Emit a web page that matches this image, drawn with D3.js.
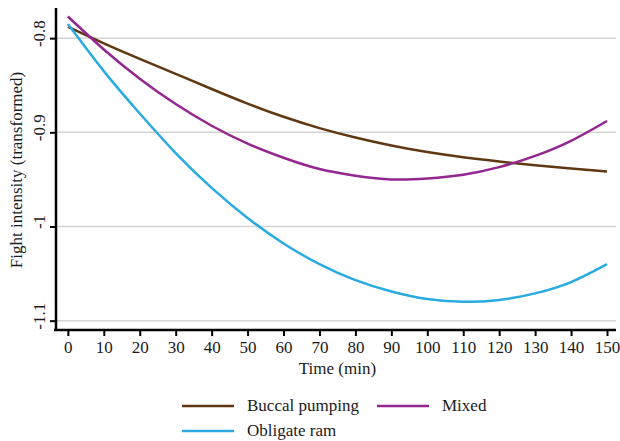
<!DOCTYPE html>
<html lang="en">
<head>
    <meta charset="UTF-8">
    <title>Fight intensity</title>
    <script src="https://d3js.org/d3.v7.min.js"></script>
    <style>
        body {
            margin: 0;
            padding: 0;
            background-color: white;
        }
        svg {
            display: block;
            font-family: 'Liberation Serif', 'DejaVu Serif', serif;
        }
        .grid line {
            stroke: #d4d4d4;
            stroke-width: 1.5;
        }
    </style>
</head>
<body>
    <svg width="620" height="441"></svg>

    <script>
        // values, every 10 min
        const times = [0, 10, 20, 30, 40, 50, 60, 70, 80, 90, 100, 110, 120, 130, 140, 150];
        const buccalPumping = [-0.788, -0.8055, -0.822, -0.838, -0.854, -0.8695, -0.8835, -0.8955,
                               -0.9055, -0.914, -0.921, -0.9265, -0.931, -0.935, -0.9385, -0.9415];
        const mixed = [-0.777, -0.812, -0.843, -0.870, -0.893, -0.912, -0.927, -0.939,
                       -0.946, -0.950, -0.949, -0.945, -0.937, -0.925, -0.909, -0.888];
        const obligateRam = [-0.785, -0.835, -0.880, -0.922, -0.959, -0.991, -1.018, -1.040,
                             -1.057, -1.069, -1.077, -1.080, -1.078, -1.071, -1.059, -1.040];
        const xTicks = [0, 10, 20, 30, 40, 50, 60, 70, 80, 90, 100, 110, 120, 130, 140, 150];
        const yTicks = [-0.8, -0.9, -1, -1.1];

        const series = [
            { name: "Buccal pumping", values: buccalPumping, color: "#603813" },
            { name: "Mixed", values: mixed, color: "#93278f" },
            { name: "Obligate ram", values: obligateRam, color: "#29abe2" }
        ];

        const fontSize = "17px";
        const svg = d3.select("svg");

        const xScale = d3.scaleLinear()
                         .domain([-3.3, 152.5])
                         .range([56, 616]);

        const yScale = d3.scaleLinear()
                         .domain([-1.1099, -0.768])
                         .range([330, 8]);

        // gridlines
        svg.append("g")
           .attr("class", "grid")
           .selectAll("line")
           .data(yTicks)
           .enter()
           .append("line")
           .attr("x1", xScale.range()[0])
           .attr("x2", xScale.range()[1])
           .attr("y1", function(d) { return yScale(d); })
           .attr("y2", function(d) { return yScale(d); });

        // curves
        const line = d3.line()
                       .x(function(d) { return xScale(d[0]); })
                       .y(function(d) { return yScale(d[1]); })
                       .curve(d3.curveNatural);

        svg.selectAll(".curve")
           .data(series)
           .enter()
           .append("path")
           .attr("class", "curve")
           .attr("d", function(s) { return line(times.map(function(t, i) { return [t, s.values[i]]; })); })
           .attr("fill", "none")
           .attr("stroke", function(s) { return s.color; })
           .attr("stroke-width", 2.5);

        // x axis
        const xAxis = svg.append("g")
           .attr("transform", "translate(0,330)")
           .call(d3.axisBottom(xScale).tickValues(xTicks).tickSize(6).tickSizeOuter(0));
        xAxis.select(".domain").attr("stroke", "black").attr("stroke-width", 2.5)
             .attr("d", "M54,0H616");
        xAxis.selectAll(".tick line").attr("stroke", "black").attr("stroke-width", 2);
        xAxis.selectAll(".tick text")
             .attr("y", 23)
             .attr("dy", 0)
             .attr("fill", "#1a1a1a")
             .style("font-size", fontSize)
             .style("font-family", "'Liberation Serif', serif");

        // y axis
        const yAxis = svg.append("g")
           .attr("transform", "translate(56,0)")
           .call(d3.axisLeft(yScale).tickValues(yTicks).tickSize(6).tickSizeOuter(0)
                   .tickFormat(function(d) { return String(d); }));
        yAxis.select(".domain").attr("stroke", "black").attr("stroke-width", 2.5)
             .attr("d", "M0,8V331");
        yAxis.selectAll(".tick line").attr("stroke", "black").attr("stroke-width", 2);
        yAxis.selectAll(".tick text")
             .attr("x", 0)
             .attr("dy", 0)
             .attr("text-anchor", "middle")
             .attr("transform", "translate(-11,-5) rotate(-90)")
             .attr("fill", "#1a1a1a")
             .style("font-size", fontSize)
             .style("font-family", "'Liberation Serif', serif");

        // axis titles
        svg.append("text")
           .attr("x", xScale(75))
           .attr("y", 374)
           .attr("text-anchor", "middle")
           .attr("fill", "#1a1a1a")
           .style("font-size", fontSize)
           .text("Time (min)");

        svg.append("text")
           .attr("transform", "translate(22," + yScale(-0.94) + ") rotate(-90)")
           .attr("text-anchor", "middle")
           .attr("fill", "#1a1a1a")
           .style("font-size", fontSize)
           .text("Fight intensity (transformed)");

        // legend
        const legendData = [
            { s: series[0], x: 182, y: 406 },
            { s: series[1], x: 377, y: 406 },
            { s: series[2], x: 182, y: 431 }
        ];

        svg.selectAll(".legend-line")
           .data(legendData)
           .enter()
           .append("line")
           .attr("x1", function(d) { return d.x; })
           .attr("x2", function(d) { return d.x + 52; })
           .attr("y1", function(d) { return d.y; })
           .attr("y2", function(d) { return d.y; })
           .attr("stroke", function(d) { return d.s.color; })
           .attr("stroke-width", 2.5);

        svg.selectAll(".legend-label")
           .data(legendData)
           .enter()
           .append("text")
           .attr("x", function(d) { return d.x + 65; })
           .attr("y", function(d) { return d.y + 5; })
           .attr("fill", "#1a1a1a")
           .style("font-size", fontSize)
           .text(function(d) { return d.s.name; });
    </script>
</body>
</html>
